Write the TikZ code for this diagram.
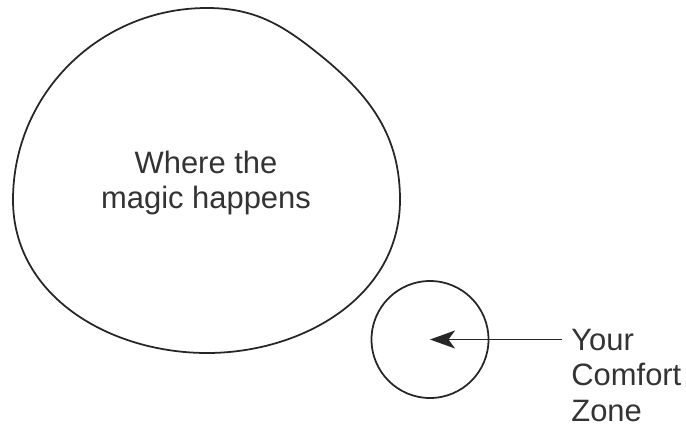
\documentclass[tikz,border=0pt]{standalone}
\usepackage{fontspec}
\setmainfont{Liberation Sans}
\usetikzlibrary{positioning, arrows.meta}
\tikzset{
	outline/.style={line width=1pt, black!85},
	pointer/.style={line width=1pt, black!85, -{Stealth[length=5mm, width=3.6mm, inset=1.3mm]}},
	caption/.style={text=black!80, inner sep=0pt, font=\fontsize{17.6}{20.4}\selectfont}
}

\begin{document}
\begin{tikzpicture}
\useasboundingbox (0,0) rectangle (13.72,8.54);
% the big blob
\coordinate (top) at (4.14,8.38);
\coordinate (ne) at (6.4,7.44);
\coordinate (right) at (8.0,4.54);
\coordinate (bottom) at (4.14,1.48);
\coordinate (left) at (0.26,4.54);
\draw [outline] (top) to[out=0,in=141] (ne) to[out=-39,in=90] (right)
  to[out=-90,in=0] (bottom) to[out=180,in=-90] (left) to[out=90,in=180] (top) -- cycle;
\node [caption, align=center] (magic) at (4.12,4.88) {Where the\\magic happens};

% comfort zone
\node [outline, draw, circle, minimum width=2.26cm, minimum height=2.34cm] (comfort) at (8.6,1.75) {};
\node [caption, align=left, anchor=north west] (zone) at (11.42,1.97) {Your\\Comfort\\Zone};
\coordinate (tail) at (11.24,1.75);
\draw [pointer] (tail) -- (comfort.center);
\end{tikzpicture}
\end{document}
